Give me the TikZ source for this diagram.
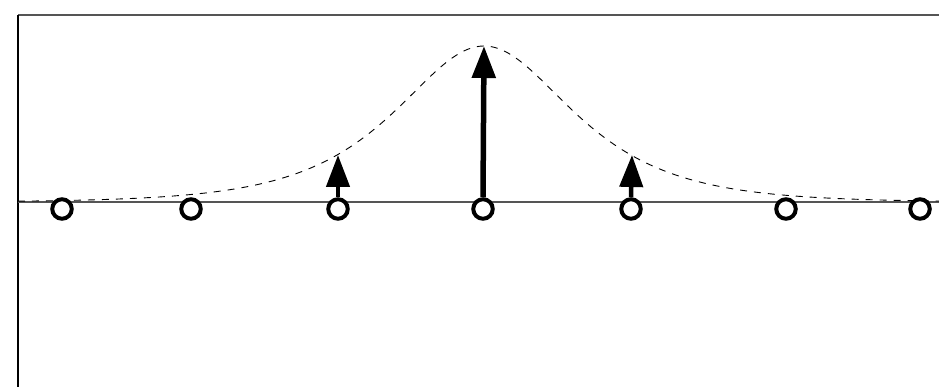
\documentclass[tikz,border=0pt]{standalone}
\usetikzlibrary{arrows.meta}
\definecolor{framegray}{HTML}{555555}
\begin{document}
\begin{tikzpicture}[x=1pt,y=-1pt,
  sample/.style={circle,draw=black,line width=4pt,fill=white,inner sep=0pt,minimum size=19.5pt},
  spike/.style={line width=5.5pt,-{Triangle[length=32pt,width=23pt]}},
  envelope/.style={dash pattern=on 7pt off 7pt,line width=0.9pt},
  axisline/.style={line width=1.4pt,draw=framegray}]
\useasboundingbox (0,0) rectangle (939,387);
% frame
\coordinate (ftl) at (18,15);
\coordinate (ftr) at (939,15);
\coordinate (fbl) at (18,387);
\draw[line width=2.2pt,draw=framegray] (ftl) -- (ftr);
\draw[line width=2pt] (ftl) -- (fbl);
% axis
\coordinate (al) at (18,202);
\coordinate (ar) at (939,202);
\draw[axisline] (al) -- (ar);
% envelope (sech)
\draw[envelope] plot[domain=18:939,samples=300] (\x,{202-156/cosh(1.87*(\x-484)/147)});
% samples
\node[sample] (c1) at (62,209) {};
\node[sample] (c2) at (191,209) {};
\node[sample] (c3) at (338,209) {};
\node[sample] (c4) at (483,209) {};
\node[sample] (c5) at (631,209) {};
\node[sample] (c6) at (786,209) {};
\node[sample] (c7) at (920,209) {};
% arrow tips
\coordinate (t3) at (338,155);
\coordinate (t4) at (484,46);
\coordinate (t5) at (632,155);
\draw[spike] (c4.north) -- (t4);
\draw[spike,line width=4.5pt] (c3.north) -- (t3);
\draw[spike,line width=4.5pt] (c5.north) -- (t5);
\end{tikzpicture}
\end{document}
